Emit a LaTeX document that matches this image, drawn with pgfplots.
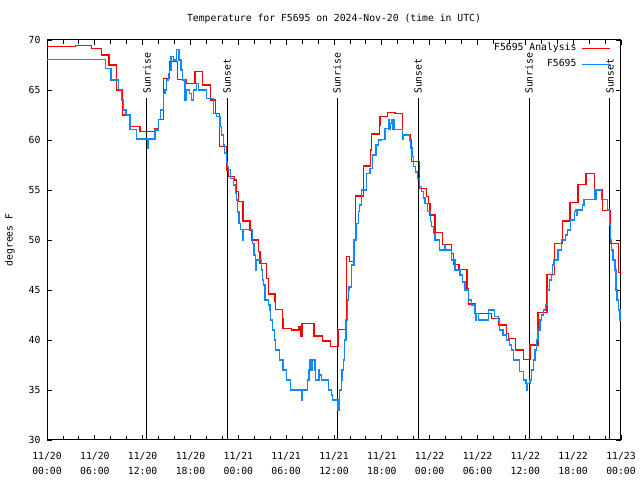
\documentclass[border=0pt]{standalone}
\usepackage{fontspec}
\setmainfont{DejaVu Sans Mono}
\setmonofont{DejaVu Sans Mono}
\usepackage{pgfplots}
\pgfplotsset{compat=1.18}
\definecolor{gred}{RGB}{255,0,0}
\definecolor{gblue}{RGB}{16,136,255}
\begin{document}
\begin{tikzpicture}[font=\fontsize{9.8}{11}\selectfont]
\path[use as bounding box] (0,0) rectangle (640bp,480bp);
\node at (334bp,461bp) {Temperature for F5695 on 2024-Nov-20 (time in UTC)};
\node[rotate=90] at (10bp,240bp) {degrees F};
\begin{axis}[
  at={(47bp,40bp)}, anchor=south west,
  scale only axis, width=574bp, height=400bp,
  xmin=0, xmax=72, ymin=30, ymax=70,
  xtick={0,6,...,72}, minor x tick num=2,
  xticklabels={{11/20\\00:00},{11/20\\06:00},{11/20\\12:00},{11/20\\18:00},{11/21\\00:00},{11/21\\06:00},{11/21\\12:00},{11/21\\18:00},{11/22\\00:00},{11/22\\06:00},{11/22\\12:00},{11/22\\18:00},{11/23\\00:00}},
  ytick={30,35,...,70},
  tick align=inside,
  major tick length=5bp, minor tick length=4bp,
  tick style={black, line width=0.8bp},
  axis line style={line width=1bp},
  /pgf/number format/assume math mode=true,
  ticklabel style={font=\fontsize{9.8}{15}\selectfont},
  xticklabel style={align=center, yshift=-9bp},
  yticklabel style={xshift=-3bp},
  legend plot pos=right,
  legend cell align=right,
  legend style={at={(1,1)}, anchor=north east, xshift=-10bp, yshift=0bp, draw=none, fill=none, inner sep=0pt, row sep=0bp, column sep=2bp,
     nodes={font=\fontsize{9.8}{11}\selectfont, text height=7.5bp, text depth=2.5bp, inner sep=3bp}},
]
\addplot[black, line width=1bp, forget plot] coordinates {(12.54,30) (12.54,64.2)};
\addplot[black, line width=1bp, forget plot] coordinates {(22.58,30) (22.58,64.2)};
\addplot[black, line width=1bp, forget plot] coordinates {(36.38,30) (36.38,64.2)};
\addplot[black, line width=1bp, forget plot] coordinates {(46.54,30) (46.54,64.2)};
\addplot[black, line width=1bp, forget plot] coordinates {(60.46,30) (60.46,64.2)};
\addplot[black, line width=1bp, forget plot] coordinates {(70.62,30) (70.62,64.2)};
\node[rotate=90, anchor=west, inner sep=0pt] at (axis cs:12.54,64.6) {Sunrise};
\node[rotate=90, anchor=west, inner sep=0pt] at (axis cs:22.58,64.6) {Sunset};
\node[rotate=90, anchor=west, inner sep=0pt] at (axis cs:36.38,64.6) {Sunrise};
\node[rotate=90, anchor=west, inner sep=0pt] at (axis cs:46.54,64.6) {Sunset};
\node[rotate=90, anchor=west, inner sep=0pt] at (axis cs:60.46,64.6) {Sunrise};
\node[rotate=90, anchor=west, inner sep=0pt] at (axis cs:70.62,64.6) {Sunset};
\addplot[gred, line width=1.3bp, const plot,
  legend image code/.code={\draw[gred, line width=1.3bp] (0bp,0bp) -- (28bp,0bp);}] coordinates {
(0,69.33) (3.6,69.43) (5.6,69.17) (6.86,68.5) (7.78,67.5) (8.74,65.0) (9.49,62.5) (10.4,61.33) (11.66,60.83)
(13.5,61.17) (13.96,62.07) (14.6,66.17) (15.4,67.83) (16.4,66.07) (17.5,65.67) (18.56,66.83) (19.48,65.5)
(20.5,64.0) (21.15,62.67) (21.6,59.33) (22.54,57.0) (22.75,56.33) (23.5,56.0) (23.8,54.83) (24.0,53.83)
(24.6,51.9) (25.47,51.0) (25.68,50.0) (26.5,48.83) (26.72,47.67) (27.55,46.17) (27.76,44.6) (28.6,43.83)
(28.7,43.07) (29.52,42.17) (29.6,41.17) (30.7,41.0) (31.6,41.3) (31.75,41.0) (31.85,40.33) (32.0,41.67)
(33.5,40.4) (34.58,39.9) (35.6,39.33) (36.5,41.07) (37.59,48.33) (37.97,47.83) (38.5,50.0) (38.72,54.4)
(39.68,57.4) (40.6,59.0) (40.72,60.6) (41.7,61.5) (41.77,62.33) (42.7,62.77) (43.65,62.67) (44.6,60.5)
(45.6,60.0) (45.75,57.83) (46.7,55.17) (47.6,54.33) (47.83,53.67) (48.04,52.5) (48.67,50.73) (49.65,49.57)
(50.76,48.67) (50.97,47.57) (51.68,47.07) (52.7,45.17) (52.85,43.6) (53.7,42.67) (55.8,42.17) (56.7,41.5)
(57.6,40.67) (57.9,40.17) (58.8,39.0) (59.75,38.07) (60.6,39.5) (61.6,42.73) (62.7,46.57) (63.65,49.67)
(64.64,51.9) (65.6,53.77) (66.6,55.57) (67.6,56.67) (68.66,55.07) (69.7,52.93) (70.7,49.67) (71.7,46.77) (72,46.77)
};
\addlegendentry{F5695 Analysis}
\addplot[gblue, line width=1.3bp, const plot,
  legend image code/.code={\draw[gblue, line width=1.3bp] (0bp,0bp) -- (28bp,0bp);}] coordinates {
(0,68.07) (7.36,67.17) (8.03,66.0) (9.0,65.07) (9.36,64.0) (9.57,63.0) (9.9,62.5) (10.4,61.07) (11.25,60.1)
(12.6,59.17) (12.75,60.1) (13.55,61.0) (13.96,62.07) (14.2,63.0) (14.6,64.67) (14.8,65.0) (15.0,66.0)
(15.2,66.67) (15.4,67.0) (15.55,68.33) (15.85,68.0) (16.26,69.07) (16.56,68.0) (16.8,67.0) (17.0,66.0)
(17.3,64.0) (17.5,65.0) (17.9,64.67) (18.14,64.0) (18.35,65.0) (18.77,65.67) (18.98,65.0) (20.0,64.17)
(20.86,62.67) (21.28,62.33) (21.7,61.33) (21.9,60.5) (22.1,59.5) (22.3,58.7) (22.5,57.8) (22.6,57.3)
(22.8,57.07) (23.04,56.17) (23.37,55.5) (23.66,54.7) (23.79,54.0) (23.87,52.8) (24.1,51.67) (24.3,51.07)
(24.55,50.0) (24.65,51.07) (25.8,49.67) (25.96,48.5) (26.17,47.0) (26.3,48.0) (26.93,47.0) (27.05,46.0)
(27.2,45.5) (27.35,44.0) (27.76,43.5) (27.97,43.0) (28.05,42.0) (28.3,41.0) (28.5,40.0) (28.7,39.0)
(29.2,38.0) (29.6,37.0) (30.06,36.0) (30.57,35.0) (31.95,34.0) (32.05,35.0) (32.7,36.0) (32.85,37.0)
(33.0,38.0) (33.2,37.0) (33.3,38.0) (33.6,37.0) (33.7,36.0) (34.1,37.0) (34.2,36.5) (34.45,36.0)
(35.3,35.0) (35.7,34.5) (35.8,34.0) (36.5,33.0) (36.7,35.0) (36.9,36.0) (37.0,37.0) (37.2,38.0)
(37.3,40.0) (37.5,42.0) (37.66,44.0) (37.8,45.0) (37.88,45.3) (38.2,47.5) (38.5,50.0) (38.75,51.67)
(39.05,52.83) (39.2,53.5) (39.47,55.0) (40.1,56.67) (40.52,57.17) (40.85,58.5) (41.27,59.5) (41.56,60.0)
(41.98,60.07) (42.4,61.17) (42.8,62.0) (42.9,61.07) (43.1,61.67) (43.2,62.07) (43.35,61.07) (43.45,62.07)
(43.55,61.07) (44.6,60.5) (44.62,60.07) (44.7,60.5) (45.45,60.0) (45.6,59.2) (45.78,58.33) (46.0,57.33)
(46.2,56.8) (46.45,56.17) (46.7,55.33) (47.0,54.83) (47.2,54.2) (47.4,53.67) (47.7,52.83) (48.1,51.83)
(48.25,51.33) (48.5,50.67) (48.67,50.0) (49.2,49.0) (49.9,49.5) (50.0,49.0) (50.76,48.0) (51.18,47.0)
(51.8,46.5) (52.1,45.8) (52.43,45.0) (52.85,44.0) (53.27,43.5) (53.7,42.67) (53.8,42.0) (53.9,42.67)
(54.1,42.0) (55.36,43.0) (56.1,42.33) (56.6,42.0) (56.8,41.0) (57.2,40.5) (57.66,40.0) (58.0,39.5)
(58.3,39.0) (58.5,38.0) (59.25,36.83) (59.75,36.0) (60.1,35.67) (60.2,35.0) (60.3,35.67) (60.58,36.0)
(60.8,37.0) (61.0,38.0) (61.2,39.0) (61.42,40.0) (61.6,41.0) (61.84,42.0) (62.05,42.5) (62.3,43.0)
(62.5,43.5) (62.76,45.0) (63.0,46.0) (63.3,46.5) (63.4,47.5) (63.6,48.0) (64.1,49.0) (64.56,50.0)
(65.0,50.5) (65.27,51.0) (65.7,52.0) (66.15,52.83) (66.36,53.0) (66.45,52.5) (66.5,53.0) (66.77,53.0)
(67.2,53.5) (67.37,54.07) (68.74,55.0) (68.85,54.07) (68.95,55.0) (69.58,54.07) (70.3,53.0) (70.55,51.5)
(70.7,50.0) (70.83,49.0) (71.0,48.0) (71.25,47.0) (71.37,45.0) (71.5,44.0) (71.66,43.0) (71.87,42.0) (72,42.0)
};
\addlegendentry{F5695}
\end{axis}
\end{tikzpicture}
\end{document}
